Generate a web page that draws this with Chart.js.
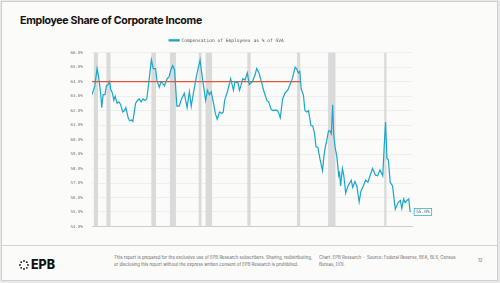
<!DOCTYPE html>
<html>
<head>
<meta charset="utf-8">
<script src="https://cdn.jsdelivr.net/npm/chart.js@4.4.1/dist/chart.umd.min.js"></script>
<style>
  html, body { margin:0; padding:0; background:#e9e9e9; }
  #page { position:absolute; left:1px; top:1px; width:495px; height:278px; background:#fbfbf9; border:1px solid #cfcfcf; overflow:hidden; }
  #title { position:absolute; left:18px; top:12px; font-family:Inter, sans-serif; font-weight:700; font-size:10.6px; color:#111; letter-spacing:-0.3px; }
  #chartbox { position:absolute; left:39px; top:32px; width:400px; height:204px; }
  #footer { position:absolute; left:0; top:243px; width:495px; height:35px; border-top:1px solid #d4d4d4; }
  .small { position:absolute; font-family:Inter, sans-serif; font-size:4.3px; line-height:6.5px; color:#666; }
  #logo { position:absolute; left:17px; top:11px; font-family:Inter, sans-serif; font-weight:800; font-size:12.5px; color:#111; }
</style>
</head>
<body>
<div id="page">
  <div id="title">Employee Share of Corporate Income</div>
  <div id="chartbox"><canvas id="main-chart"></canvas></div>
  <div id="footer">
    <div id="logo">
      <svg width="10" height="10" viewBox="0 0 10 10" style="vertical-align:-1px;margin-right:2px">
        <circle cx="5" cy="1" r="0.9" fill="#111"/><circle cx="7.8" cy="2.2" r="0.9" fill="#111"/>
        <circle cx="9" cy="5" r="0.9" fill="#111"/><circle cx="7.8" cy="7.8" r="0.9" fill="#111"/>
        <circle cx="5" cy="9" r="0.9" fill="#111"/><circle cx="2.2" cy="7.8" r="0.9" fill="#111"/>
        <circle cx="1" cy="5" r="0.9" fill="#111"/><circle cx="2.2" cy="2.2" r="0.9" fill="#111"/>
      </svg>EPB</div>
    <div class="small" style="left:112px;top:9px;">This report is prepared for the exclusive use of EPB Research subscribers. Sharing, redistributing,<br>or disclosing this report without the express written consent of EPB Research is prohibited.</div>
    <div class="small" style="left:317px;top:9px;">Chart: EPB Research &nbsp;·&nbsp; Source: Federal Reserve, BEA, BLS, Census<br>Bureau, DOL</div>
    <div class="small" style="left:476px;top:12px;">12</div>
  </div>
</div>
<script>
const SERIES_LABEL = "Compensation of Employees as % of GVA";

const YEARS = [
  1957.0,1957.4,1957.6,1958.1,1958.4,1958.9,1959.1,1959.4,1959.8,1960.1,
  1960.5,1960.8,1961.0,1961.4,1961.7,1962.0,1962.4,1962.8,1963.2,1963.6,
  1964.0,1964.3,1964.8,1965.1,1965.5,1965.8,1966.4,1966.8,1967.2,1967.6,
  1968.0,1968.4,1968.8,1969.2,1969.8,1970.2,1970.7,1971.0,1971.5,1971.9,
  1972.2,1972.6,1973.2,1973.6,1974.0,1974.4,1974.8,1975.3,1975.8,1976.3,
  1976.9,1977.5,1978.0,1978.4,1978.7,1979.2,1979.6,1980.3,1980.7,1981.0,
  1981.5,1981.9,1982.3,1982.7,1983.2,1983.6,1984.0,1984.5,1985.0,1985.3,
  1985.6,1986.2,1986.9,1987.5,1987.8,1988.5,1988.8,1989.1,1989.5,1990.0,
  1990.5,1990.9,1991.6,1992.2,1992.5,1993.0,1993.6,1994.0,1994.4,1994.7,
  1995.1,1995.6,1996.0,1996.5,1997.0,1997.3,1997.6,1998.1,1998.6,1999.2,
  1999.7,2000.2,2000.8,2001.1,2001.5,2001.8,2002.1,2002.6,2002.9,2003.3,
  2003.7,2004.2,2004.6,2005.0,2005.3,2005.7,2006.2,2006.7,2007.0,2007.3,
  2007.6,2008.0,2008.3,2008.6,2008.9,2009.1,2009.4,2009.8,2010.2,2010.4,
  2010.6,2011.0,2011.3,2011.7,2012.2,2012.9,2013.2,2013.7,2014.1,2014.6,
  2015.0,2015.5,2016.0,2016.5,2017.0,2017.5,2018.1,2018.6,2019.1,2019.7,
  2020.0,2020.3,2020.6,2020.9,2021.3,2021.8,2022.4,2023.0,2023.5,2023.8,
  2024.2,2024.5,2024.9,2025.3,2025.6
];

const SHARE = [
  63.1,63.5,63.7,64.9,64.4,63.1,62.2,63.1,63.1,63.7,
  63.8,64.0,63.5,63.2,62.7,63.0,62.5,62.6,62.4,61.9,
  62.0,62.2,61.5,61.3,61.35,61.25,62.5,62.7,62.8,62.6,
  62.8,62.7,62.8,63.8,65.5,64.9,64.9,64.1,63.6,64.0,
  63.9,63.7,64.2,64.3,64.8,65.1,64.8,62.3,62.3,62.8,
  63.2,62.2,63.3,62.3,62.9,63.8,64.5,65.5,64.5,63.8,
  62.7,63.4,63.1,63.3,62.5,61.8,61.4,61.9,61.8,61.9,
  62.7,63.3,64.2,63.4,64.0,63.9,63.4,63.7,64.2,64.1,
  64.6,63.8,64.0,64.5,64.9,64.6,63.9,63.4,63.0,62.7,
  62.6,62.1,62.0,62.05,62.0,61.8,61.5,62.8,63.2,63.4,
  63.8,64.2,65.0,64.9,64.6,64.7,63.5,63.05,62.0,61.9,
  62.0,60.95,60.95,60.4,59.5,59.45,58.6,57.85,58.8,59.5,
  59.9,60.6,60.6,60.4,62.4,60.4,59.5,58.8,57.5,57.7,
  56.8,58.0,57.5,56.3,56.8,57.2,56.7,57.1,56.8,55.7,
  56.45,56.8,57.2,57.05,57.55,58.0,57.55,57.5,57.9,57.5,
  59.5,61.2,58.7,58.6,57.05,56.8,55.2,55.65,55.8,55.25,
  55.9,55.65,55.8,55.9,55.0
];

// average line drawn over 1957-2002
const REF_YEARS = [1957, 2002];
const REF_VALUE = [64.0, 64.0];

// recession shading (start, end)
const REC_START = [1957.4, 1960.1, 1969.8, 1973.8, 1980.0, 1981.5, 1990.5, 2001.2, 2007.9, 2020.0];
const REC_END   = [1958.3, 1961.0, 1970.8, 1975.1, 1980.6, 1982.9, 1991.2, 2001.9, 2009.5, 2020.5];

const X_TICKS = [1957,1960,1963,1966,1969,1972,1975,1978,1981,1984,1987,1990,
                 1993,1996,1999,2002,2005,2008,2011,2014,2017,2020,2023,2026];
const Y_MIN = 54, Y_MAX = 66;

const MONO = "'DejaVu Sans Mono', monospace";
const LINE_COLOR = "#1ba6c9";

const recessionPlugin = {
  id: "recessions",
  beforeDatasetsDraw(chart) {
    const { ctx, chartArea: a, scales: { x } } = chart;
    ctx.save();
    ctx.fillStyle = "#dadada";
    for (let i = 0; i < REC_START.length; i++) {
      const x0 = x.getPixelForValue(REC_START[i]);
      const x1 = x.getPixelForValue(REC_END[i]);
      ctx.fillRect(x0, a.top, x1 - x0, a.bottom - a.top);
    }
    ctx.restore();
  }
};

const endLabelPlugin = {
  id: "endLabel",
  afterDatasetsDraw(chart) {
    const meta = chart.getDatasetMeta(0);
    const pt = meta.data[meta.data.length - 1];
    const ctx = chart.ctx;
    const txt = SHARE[SHARE.length - 1].toFixed(1) + "%";
    ctx.save();
    ctx.font = "4.5px " + MONO;
    const w = ctx.measureText(txt).width + 4;
    const bx = pt.x + 4, by = pt.y - 3.5;
    ctx.fillStyle = "#ffffff";
    ctx.fillRect(bx, by, w, 7);
    ctx.strokeStyle = LINE_COLOR;
    ctx.lineWidth = 0.7;
    ctx.strokeRect(bx, by, w, 7);
    ctx.fillStyle = "#555";
    ctx.textBaseline = "middle";
    ctx.fillText(txt, bx + 2, by + 3.6);
    ctx.restore();
  }
};

new Chart(document.getElementById("main-chart"), {
  type: "line",
  data: {
    datasets: [
      {
        label: SERIES_LABEL,
        data: YEARS.map((y, i) => ({ x: y, y: SHARE[i] })),
        borderColor: LINE_COLOR,
        backgroundColor: LINE_COLOR,
        borderWidth: 1.2,
        pointRadius: 0,
        tension: 0
      },
      {
        label: "avg",
        data: REF_YEARS.map((y, i) => ({ x: y, y: REF_VALUE[i] })),
        borderColor: "#e2553b",
        borderWidth: 1.1,
        pointRadius: 0
      }
    ]
  },
  options: {
    responsive: true,
    maintainAspectRatio: false,
    animation: false,
    layout: { padding: { top: 1, right: 29, left: 0, bottom: 0 } },
    plugins: {
      legend: {
        display: true,
        labels: {
          filter: item => item.datasetIndex === 0,
          boxWidth: 10,
          boxHeight: 1,
          padding: 3,
          color: "#555",
          font: { family: MONO, size: 4.6 }
        }
      },
      tooltip: { enabled: false }
    },
    scales: {
      x: {
        type: "linear",
        min: X_TICKS[0],
        max: X_TICKS[X_TICKS.length - 1],
        afterBuildTicks: s => { s.ticks = X_TICKS.map(v => ({ value: v })); },
        afterFit: s => { s.height = 10; },
        grid: { display: false },
        border: { color: "#cccccc" },
        ticks: {
          autoSkip: false,
          maxRotation: 0,
          padding: 2,
          color: "#777",
          font: { family: MONO, size: 3.8 },
          callback: v => String(v)
        }
      },
      y: {
        min: Y_MIN,
        max: Y_MAX,
        afterFit: s => { s.width = 51; },
        grid: { color: "#e6e6e6", lineWidth: 0.6, drawTicks: false },
        border: { display: false },
        ticks: {
          stepSize: 1,
          padding: 9,
          color: "#777",
          font: { family: MONO, size: 4.2 },
          callback: v => v.toFixed(1) + "%"
        }
      }
    }
  },
  plugins: [recessionPlugin, endLabelPlugin]
});
</script>
</body>
</html>
